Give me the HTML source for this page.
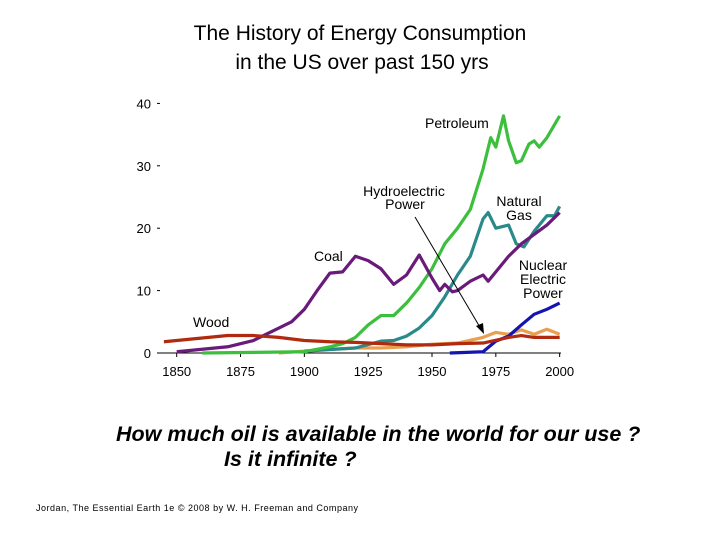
<!DOCTYPE html>
<html><head><meta charset="utf-8"><style>
html,body{margin:0;padding:0;background:#fff;width:720px;height:540px;overflow:hidden}
svg{display:block;font-family:"Liberation Sans",Arial,sans-serif}
</style></head><body>
<svg id="chart" width="720" height="540" viewBox="0 0 720 540">
<text x="360" y="40" font-size="21" text-anchor="middle">The History of Energy Consumption</text>
<text x="362" y="69" font-size="21" text-anchor="middle">in the US over past 150 yrs</text>
<g id="axes"></g>
<g id="series"></g>
<g font-size="14" fill="#000">
<text x="425" y="128">Petroleum</text>
<text x="404" y="196" text-anchor="middle">Hydroelectric</text>
<text x="405" y="209" text-anchor="middle">Power</text>
<text x="519" y="206" text-anchor="middle">Natural</text>
<text x="519" y="220" text-anchor="middle">Gas</text>
<text x="543" y="270" text-anchor="middle">Nuclear</text>
<text x="543" y="284" text-anchor="middle">Electric</text>
<text x="543" y="298" text-anchor="middle">Power</text>
<text x="314" y="261">Coal</text>
<text x="193" y="327">Wood</text>
</g>
<line x1="415" y1="217" x2="481" y2="329" stroke="#000" stroke-width="1"/>
<polygon points="484,334 476,326 483,323" fill="#000"/>
<text x="116" y="441" font-size="21.5" font-weight="bold" font-style="italic">How much oil is available in the world for our use ?</text>
<text x="224" y="466" font-size="21.5" font-weight="bold" font-style="italic">Is it infinite ?</text>
<text x="36" y="511" font-size="9" textLength="322">Jordan, The Essential Earth 1e © 2008 by W. H. Freeman and Company</text>
</svg>
<script>
const xTicks=[1850,1875,1900,1925,1950,1975,2000];
const yTicks=[0,10,20,30,40];
const woodYears=[1845,1855,1870,1880,1890,1900,1910,1920,1930,1940,1950,1960,1970,1980,1985,1990,2000];
const woodVals=[1.8,2.2,2.8,2.8,2.5,2.0,1.8,1.7,1.5,1.3,1.3,1.5,1.6,2.5,2.8,2.5,2.5];
const coalYears=[1850,1860,1870,1880,1890,1895,1900,1905,1910,1915,1920,1925,1930,1935,1940,1945,1950,1953,1955,1958,1960,1965,1970,1972,1975,1980,1985,1990,1995,2000];
const coalVals=[0.2,0.6,1,2,4,5,7,10,12.8,13,15.5,14.8,13.5,11,12.5,15.7,12,10,11,9.8,10,11.5,12.5,11.5,13,15.5,17.5,19,20.5,22.5];
const petroYears=[1860,1900,1910,1915,1920,1925,1930,1935,1940,1945,1950,1955,1960,1965,1970,1973,1975,1978,1980,1983,1985,1988,1990,1992,1995,2000];
const petroVals=[0,0.2,1,1.5,2.5,4.5,6,6,8,10.5,13.5,17.5,20,23,29.5,34.5,33,38,34,30.5,30.8,33.5,34,33,34.5,38];
const gasYears=[1900,1920,1930,1935,1940,1945,1950,1955,1960,1965,1970,1972,1975,1980,1983,1986,1990,1995,1998,2000];
const gasVals=[0.3,0.8,1.9,2,2.7,4,6,9,12.5,15.5,21.5,22.5,20,20.5,17.5,17,19.5,22,22,23.5];
const hydroYears=[1890,1900,1910,1920,1930,1940,1950,1960,1970,1975,1980,1985,1990,1995,2000];
const hydroVals=[0,0.3,0.6,0.8,0.8,1,1.4,1.6,2.5,3.3,3,3.7,3,3.8,3];
const nucYears=[1957,1970,1975,1980,1985,1990,1995,2000];
const nucVals=[0,0.2,1.9,2.7,4.5,6.2,7,8];
const NS="http://www.w3.org/2000/svg";
const X=y=>176.7+(y-1850)*2.553;
const Y=v=>353-v*6.24;
const axes=document.getElementById('axes');
const ser=document.getElementById('series');
function mk(tag,attrs,parent){const e=document.createElementNS(NS,tag);for(const k in attrs)e.setAttribute(k,attrs[k]);parent.appendChild(e);return e;}
const ax=mk('line',{x1:157,y1:Y(0),x2:561,y2:Y(0),stroke:'#000','stroke-width':1},axes);


xTicks.forEach(t=>{
  const tk=mk('line',{x1:X(t),y1:Y(0),x2:X(t),y2:Y(0)+4,stroke:'#000'},axes);
  
  
  const tx=mk('text',{x:X(t),y:Y(0)+23,'font-size':13,'text-anchor':'middle'},axes);
  tx.textContent=t;
  
  
});
yTicks.forEach(t=>{
  const tx=mk('text',{x:151,y:Y(t)+5,'font-size':13,'text-anchor':'end'},axes);
  tx.textContent=t;
  
  
  if(t>0){const d=mk('line',{x1:157,y1:Y(t),x2:160,y2:Y(t),stroke:'#000'},axes);
  
  }
});
function line(years,vals,color,name){
  const p=mk('polyline',{points:years.map((y,i)=>X(y)+','+Y(vals[i])).join(' '),fill:'none',stroke:color,'stroke-width':3.2,'stroke-linejoin':'round'},ser);
  
  
}
line(hydroYears,hydroVals,'#e8a050','hydro-line');
line(nucYears,nucVals,'#1414b0','nuclear-line');
line(gasYears,gasVals,'#2a8a8a','gas-line');
line(petroYears,petroVals,'#3cbf3c','petroleum-line');
line(coalYears,coalVals,'#6a1a7a','coal-line');
line(woodYears,woodVals,'#b02a10','wood-line');
</script>
</body></html>
